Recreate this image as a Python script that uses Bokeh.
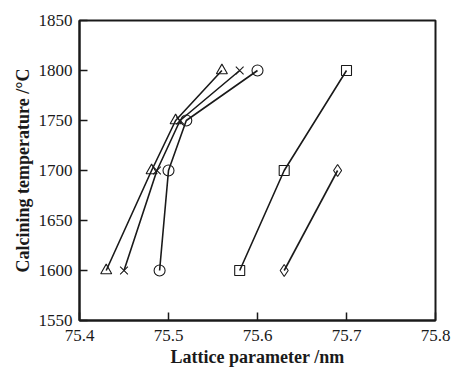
from bokeh.plotting import figure
from bokeh.models import Range1d, FixedTicker
from bokeh.embed import file_html
from bokeh.resources import INLINE

# Calcining temperature (°C) for each sample series
temp_a = [1600, 1700, 1750, 1800]
temp_b = [1600, 1700, 1750, 1800]
temp_c = [1600, 1700, 1750, 1800]
temp_d = [1600, 1700, 1800]
temp_e = [1600, 1700]

# Lattice parameter (nm) for each series
lat_triangle = [75.43, 75.481, 75.508, 75.56]
lat_cross = [75.45, 75.487, 75.513, 75.58]
lat_circle = [75.49, 75.50, 75.52, 75.60]
lat_square = [75.58, 75.63, 75.70]
lat_diamond = [75.63, 75.69]

x_ticks = [75.4, 75.5, 75.6, 75.7, 75.8]
y_ticks = [1550, 1600, 1650, 1700, 1750, 1800, 1850]

p = figure(width=454, height=370, output_backend="svg", toolbar_location=None,
           x_range=Range1d(75.4, 75.8), y_range=Range1d(1550, 1850),
           min_border_left=79, min_border_right=19, min_border_top=20, min_border_bottom=50)

ink = "#1a1a1a"
series = [
    (lat_triangle, temp_a, "triangle", 11),
    (lat_cross, temp_b, "x", 11),
    (lat_circle, temp_c, "circle", 11),
    (lat_square, temp_d, "square", 10),
    (lat_diamond, temp_e, "diamond", 12),
]
for xs, ys, marker, size in series:
    p.line(xs, ys, line_color=ink, line_width=1.6)
    p.scatter(xs, ys, marker=marker, size=size, fill_color=None,
              line_color=ink, line_width=1.1)

p.xgrid.visible = False
p.ygrid.visible = False
p.outline_line_color = ink
p.outline_line_width = 2
p.outline_line_alpha = 1

p.xaxis.ticker = FixedTicker(ticks=x_ticks)
p.yaxis.ticker = FixedTicker(ticks=y_ticks)
p.xaxis.axis_label = "Lattice parameter /nm"
p.yaxis.axis_label = "Calcining temperature /°C"

for ax in (p.xaxis[0], p.yaxis[0]):
    ax.axis_line_color = ink
    ax.axis_line_width = 2
    ax.major_tick_line_color = ink
    ax.major_tick_line_width = 1.5
    ax.major_tick_in = 8
    ax.major_tick_out = 0
    ax.minor_tick_line_color = None
    ax.major_label_text_font = "Liberation Serif"
    ax.major_label_text_font_size = "17px"
    ax.major_label_text_color = ink
    ax.axis_label_text_font = "Liberation Serif"
    ax.axis_label_text_font_style = "bold"
    ax.axis_label_text_font_size = "18px"
    ax.axis_label_text_color = ink

p.xaxis.major_label_standoff = 9
p.xaxis.axis_label_standoff = 3
p.yaxis.major_label_standoff = 7
p.yaxis.axis_label_standoff = 3

open("out.html", "w").write(file_html(p, INLINE))
